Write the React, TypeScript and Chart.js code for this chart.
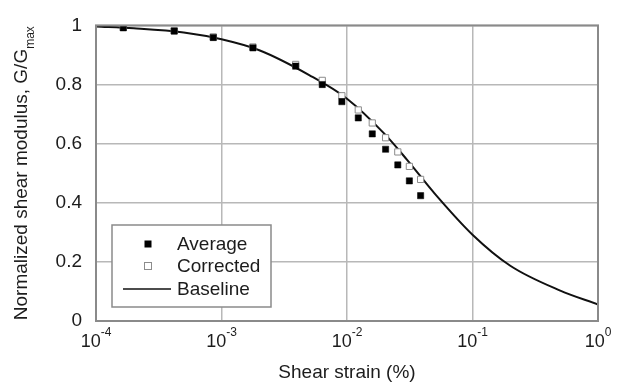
import { useEffect, useRef } from 'react';
import { Chart, registerables } from 'chart.js';

Chart.register(...registerables);

// Measured data (shear strain in %, normalized shear modulus G/Gmax)
const strainPts = [1.65e-4, 4.2e-4, 8.6e-4, 1.78e-3, 3.9e-3, 6.35e-3, 9.1e-3, 0.0123, 0.0159, 0.0203, 0.0254, 0.0314, 0.0386];
const averageG = [0.992, 0.981, 0.959, 0.924, 0.862, 0.8, 0.742, 0.687, 0.633, 0.581, 0.528, 0.474, 0.424];
const correctedG = [0.993, 0.982, 0.961, 0.927, 0.868, 0.814, 0.762, 0.714, 0.67, 0.62, 0.572, 0.523, 0.479];

// Baseline curve
const baselineStrain = [1e-4, 2e-4, 5e-4, 1e-3, 2e-3, 5e-3, 1e-2, 2e-2, 3e-2, 5e-2, 0.1, 0.2, 0.5, 1];
const baselineG = [0.996, 0.99, 0.976, 0.953, 0.916, 0.832, 0.752, 0.632, 0.546, 0.431, 0.292, 0.187, 0.103, 0.056];

const xTickValues = [1e-4, 1e-3, 1e-2, 1e-1, 1];
const xTickExponents = ['-4', '-3', '-2', '-1', '0'];
const seriesLabels = ['Average', 'Corrected', 'Baseline'];
const xTitle = 'Shear strain (%)';
const yTitleMain = 'Normalized shear modulus, G/G';
const yTitleSub = 'max';

const FONT = '"Liberation Sans", Arial, Helvetica, sans-serif';
const TEXT = '#1c1c1c';

export default function App() {
  const ref = useRef<HTMLCanvasElement>(null);

  useEffect(() => {
    document.body.style.margin = '0';
    const overlay = {
      id: 'overlay',
      afterDraw(chart: any) {
        const ctx = chart.ctx as CanvasRenderingContext2D;
        const { left, right, top, bottom } = chart.chartArea;
        const xs = chart.scales.x;
        ctx.save();
        // frame
        ctx.strokeStyle = '#8a8a8a';
        ctx.lineWidth = 2;
        ctx.strokeRect(left, top, right - left, bottom - top);

        // x tick labels with superscripts
        ctx.fillStyle = TEXT;
        ctx.textBaseline = 'middle';
        ctx.textAlign = 'left';
        xTickValues.forEach((v, i) => {
          const px = xs.getPixelForValue(v);
          ctx.font = `18px ${FONT}`;
          const wb = ctx.measureText('10').width;
          ctx.font = `12px ${FONT}`;
          const we = ctx.measureText(xTickExponents[i]).width;
          const start = px - (wb + we) / 2;
          ctx.font = `18px ${FONT}`;
          ctx.fillText('10', start, bottom + 21);
          ctx.font = `12px ${FONT}`;
          ctx.fillText(xTickExponents[i], start + wb, bottom + 12);
        });

        // x title
        ctx.font = `19px ${FONT}`;
        ctx.textAlign = 'center';
        ctx.fillText(xTitle, (left + right) / 2, bottom + 52);

        // y title with subscript
        ctx.save();
        ctx.font = `19px ${FONT}`;
        const wm = ctx.measureText(yTitleMain).width;
        ctx.font = `12px ${FONT}`;
        const ws = ctx.measureText(yTitleSub).width;
        ctx.translate(22, (top + bottom) / 2);
        ctx.rotate(-Math.PI / 2);
        ctx.textAlign = 'left';
        const s0 = -(wm + ws) / 2;
        ctx.font = `19px ${FONT}`;
        ctx.fillText(yTitleMain, s0, 0);
        ctx.font = `12px ${FONT}`;
        ctx.fillText(yTitleSub, s0 + wm, 9);
        ctx.restore();

        // legend
        const lx = 112, ly = 225, lw = 159, lh = 82;
        ctx.fillStyle = '#fff';
        ctx.fillRect(lx, ly, lw, lh);
        ctx.strokeStyle = '#8a8a8a';
        ctx.lineWidth = 1.5;
        ctx.strokeRect(lx, ly, lw, lh);
        const rows = [244, 266, 289];
        const ds = chart.data.datasets;
        // Average marker
        ctx.fillStyle = ds[0].backgroundColor;
        ctx.fillRect(148 - 3.5, rows[0] - 3.5, 7, 7);
        // Corrected marker
        ctx.fillStyle = '#fff';
        ctx.fillRect(148 - 3.5, rows[1] - 3.5, 7, 7);
        ctx.strokeStyle = ds[1].borderColor;
        ctx.lineWidth = 1;
        ctx.strokeRect(148 - 3.5, rows[1] - 3.5, 7, 7);
        // Baseline line
        ctx.strokeStyle = ds[2].borderColor;
        ctx.lineWidth = 1.5;
        ctx.beginPath();
        ctx.moveTo(123, rows[2]);
        ctx.lineTo(171, rows[2]);
        ctx.stroke();
        ctx.fillStyle = TEXT;
        ctx.font = `19px ${FONT}`;
        ctx.textAlign = 'left';
        ctx.textBaseline = 'middle';
        seriesLabels.forEach((t, i) => ctx.fillText(t, 177, rows[i] + 1));
        ctx.restore();
      },
    };

    const chart = new Chart(ref.current!, {
      type: 'scatter',
      data: {
        datasets: [
          {
            label: seriesLabels[0],
            data: strainPts.map((x, i) => ({ x, y: averageG[i] })),
            pointStyle: 'rect',
            pointRadius: 4.4,
            backgroundColor: '#000',
            borderColor: '#000',
            borderWidth: 0.5,
            showLine: false,
          },
          {
            label: seriesLabels[1],
            data: strainPts.map((x, i) => ({ x, y: correctedG[i] })),
            pointStyle: 'rect',
            pointRadius: 4.4,
            backgroundColor: '#fff',
            borderColor: '#8c8c8c',
            borderWidth: 1,
            showLine: false,
          },
          {
            label: seriesLabels[2],
            data: baselineStrain.map((x, i) => ({ x, y: baselineG[i] })),
            showLine: true,
            pointRadius: 0,
            borderColor: '#111',
            borderWidth: 2,
            tension: 0.3,
            cubicInterpolationMode: 'monotone',
          },
        ],
      } as any,
      options: {
        animation: false,
        responsive: false,
        devicePixelRatio: 1,
        layout: { padding: { top: 21, right: 26, left: 0, bottom: 0 } },
        plugins: { legend: { display: false }, tooltip: { enabled: false } },
        scales: {
          x: {
            type: 'logarithmic',
            min: 1e-4,
            max: 1,
            afterBuildTicks: (s: any) => {
              s.ticks = xTickValues.map((v) => ({ value: v }));
            },
            afterFit: (s: any) => {
              s.height = 61;
            },
            ticks: { display: false },
            grid: { color: '#b8b8b8', lineWidth: 1.5, drawTicks: false },
            border: { display: false },
          },
          y: {
            min: 0,
            max: 1,
            afterFit: (s: any) => {
              s.width = 96;
            },
            ticks: {
              stepSize: 0.2,
              color: TEXT,
              font: { family: FONT, size: 19 },
              padding: 14,
              callback: (v: any) => String(Math.round(Number(v) * 10) / 10),
            },
            grid: { color: '#b8b8b8', lineWidth: 1.5, drawTicks: false },
            border: { display: false },
          },
        },
      } as any,
      plugins: [overlay],
    });
    return () => chart.destroy();
  }, []);

  return (
    <div style={{ width: 624, height: 382 }}>
      <canvas ref={ref} width={624} height={382} style={{ display: 'block' }} />
    </div>
  );
}
